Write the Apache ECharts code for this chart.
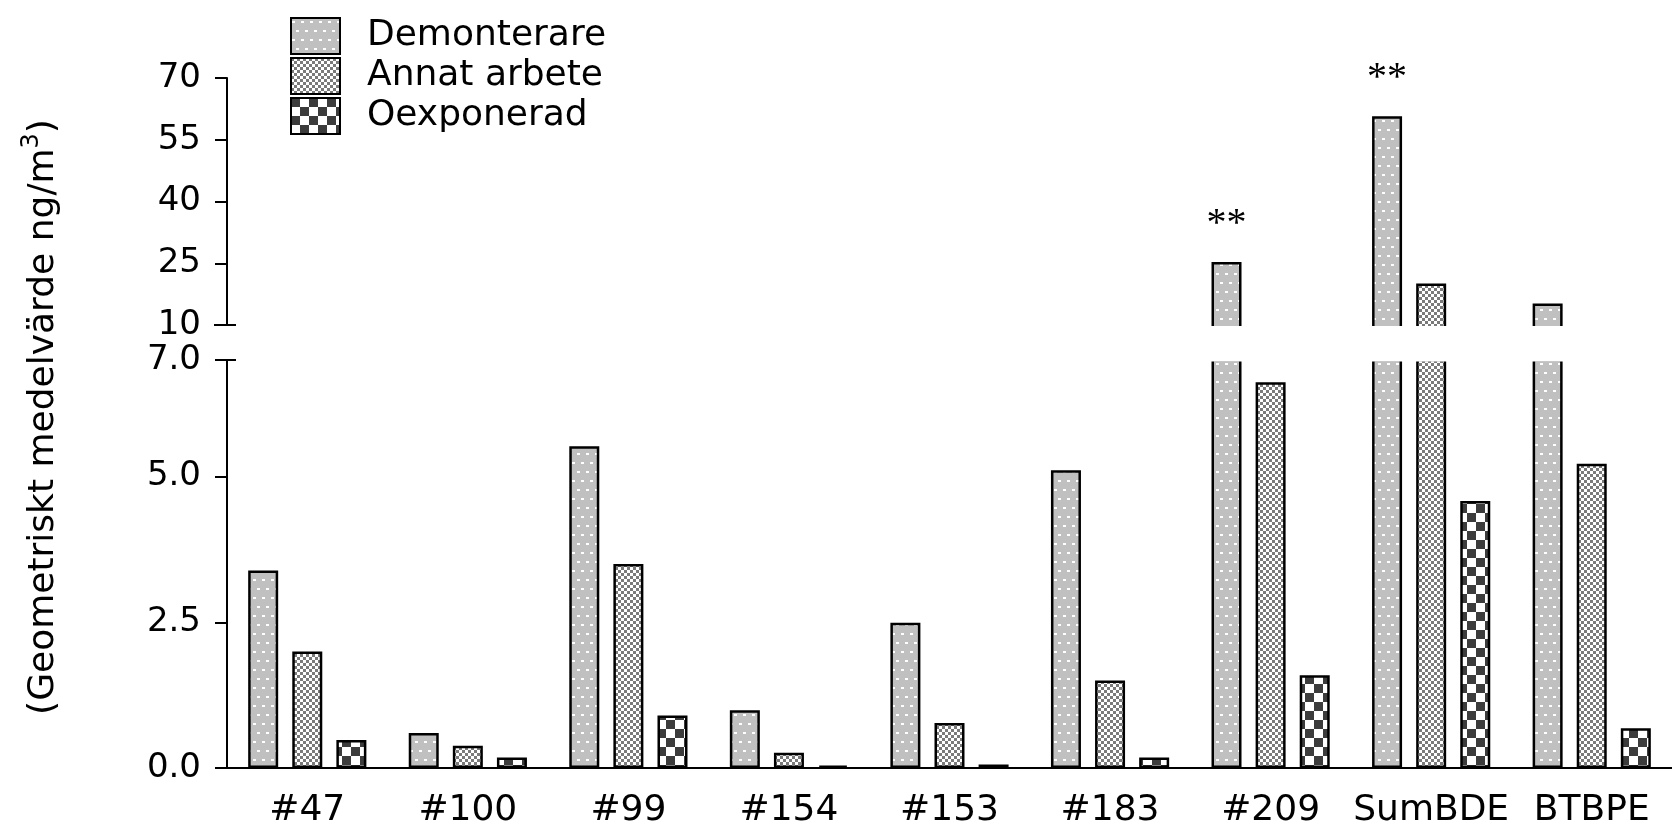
<!DOCTYPE html>
<html>
<head>
<meta charset="utf-8">
<script src="https://cdn.jsdelivr.net/npm/echarts@6/dist/echarts.min.js"></script>
<style>
  html, body { margin: 0; padding: 0; background: #fff; }
  #chart { width: 1672px; height: 831px; }
</style>
</head>
<body>
<div id="chart"></div>
<script>
// values
var categories = ['#47', '#100', '#99', '#154', '#153', '#183', '#209', 'SumBDE', 'BTBPE'];
var demonterare = [3.39, 0.60, 5.52, 0.99, 2.49, 5.11, 25.3, 60.7, 15.2];
var annatArbete = [2.0, 0.38, 3.50, 0.26, 0.77, 1.50, 6.62, 20.1, 5.22];
var oexponerad = [0.48, 0.18, 0.90, 0.04, 0.06, 0.18, 1.59, 4.58, 0.68];
var stars = ['', '', '', '', '', '', '**', '**', ''];
var seriesNames = ['Demonterare', 'Annat arbete', 'Oexponerad'];
var lowAxis = { min: 0, max: 7, interval: 2.5 };
var highAxis = { min: 10, max: 70, interval: 15 };

var FONT = 'DejaVu Sans';

function tile(w, h, bg, fg, rects) {
  var c = document.createElement('canvas');
  c.width = w; c.height = h;
  var ctx = c.getContext('2d');
  ctx.fillStyle = bg; ctx.fillRect(0, 0, w, h);
  ctx.fillStyle = fg;
  rects.forEach(function (r) { ctx.fillRect(r[0], r[1], r[2], r[3]); });
  return { image: c, repeat: 'repeat' };
}
var fills = [
  tile(9, 18, '#c0c0c0', '#ffffff', [[1, 3, 3, 2], [5, 12, 3, 2]]),
  tile(6, 6, '#ffffff', '#7a7a7a', [[0, 0, 3, 3], [3, 3, 3, 3]]),
  tile(18, 18, '#ffffff', '#3c3c3c', [[0, 0, 9, 9], [9, 9, 9, 9]])
];
var dataSets = [demonterare, annatArbete, oexponerad];

var chart = echarts.init(document.getElementById('chart'));

var series = [];
dataSets.forEach(function (vals, k) {
  var style = { color: fills[k], borderColor: '#000', borderWidth: 2.5 };
  series.push({
    name: seriesNames[k], type: 'bar', xAxisIndex: 1, yAxisIndex: 1,
    barWidth: 30, barGap: '47%', clip: true, itemStyle: style,
    data: vals
  });
  series.push({
    name: seriesNames[k], type: 'bar', xAxisIndex: 0, yAxisIndex: 0,
    barWidth: 30, barGap: '47%', clip: false, itemStyle: style,
    data: vals.map(function (v, i) {
      if (v <= highAxis.min) return '-';
      if (k === 0 && stars[i]) {
        return { value: v, label: { show: true, formatter: stars[i] } };
      }
      return v;
    }),
    label: { show: false, position: 'top', distance: 18, color: '#000',
             fontFamily: 'Liberation Serif', fontSize: 40 }
  });
});

var gridL = 227, gridW = 1452;

chart.setOption({
  animation: false,
  legend: {
    data: seriesNames, orient: 'vertical', left: 285, top: 12,
    itemWidth: 49, itemHeight: 36, itemGap: 2, icon: 'rect', selectedMode: false,
    itemStyle: { borderWidth: 2 },
    textStyle: { fontFamily: FONT, fontSize: 36, color: '#000', padding: [0, 0, 0, 22] }
  },
  grid: [
    { left: gridL, width: gridW, top: 78, height: 247 },
    { left: gridL, width: gridW, top: 360, height: 408 }
  ],
  xAxis: [
    { type: 'category', gridIndex: 0, data: categories, show: false },
    { type: 'category', gridIndex: 1, data: categories,
      axisLine: { lineStyle: { color: '#000', width: 2 } },
      axisTick: { show: false },
      axisLabel: { interval: 0, hideOverlap: false, color: '#000', fontFamily: FONT,
                   fontSize: 36, margin: 25 } }
  ],
  yAxis: [
    { type: 'value', gridIndex: 0, min: highAxis.min, max: highAxis.max, interval: highAxis.interval,
      startValue: 5, splitLine: { show: false }, z: 50,
      axisLine: { show: true, lineStyle: { color: '#000', width: 2 } },
      axisTick: { show: true, length: 12, lineStyle: { color: '#000', width: 2 } },
      axisLabel: { color: '#000', fontFamily: FONT, fontSize: 34, margin: 26 } },
    { type: 'value', gridIndex: 1, min: lowAxis.min, max: lowAxis.max, interval: lowAxis.interval,
      splitLine: { show: false }, z: 50,
      axisLine: { show: true, lineStyle: { color: '#000', width: 2 } },
      axisTick: { show: true, length: 12, lineStyle: { color: '#000', width: 2 } },
      axisLabel: { color: '#000', fontFamily: FONT, fontSize: 34, margin: 26,
        formatter: function (v) { return v.toFixed(1); } } }
  ],
  graphic: [
    { type: 'rect', z: 100, shape: { x: 229, y: 326, width: 1460, height: 35.5 },
      style: { fill: '#fff' } },
    { type: 'line', z: 110, shape: { x1: 214, y1: 325, x2: 236, y2: 325 },
      style: { stroke: '#000', lineWidth: 2 } },
    { type: 'line', z: 110, shape: { x1: 221, y1: 360, x2: 236, y2: 360 },
      style: { stroke: '#000', lineWidth: 2 } },
    { type: 'text', z: 110, x: 44, y: 417, rotation: Math.PI / 2,
      style: {
        text: '{a|(Geometriskt medelvärde ng/m}{s|3}{a|)}',
        align: 'center', verticalAlign: 'middle', fill: '#000',
        rich: {
          a: { fontFamily: FONT, fontSize: 36, lineHeight: 48 },
          s: { fontFamily: FONT, fontSize: 24, verticalAlign: 'top', lineHeight: 26 }
        }
      } }
  ],
  series: series
});
</script>
</body>
</html>
